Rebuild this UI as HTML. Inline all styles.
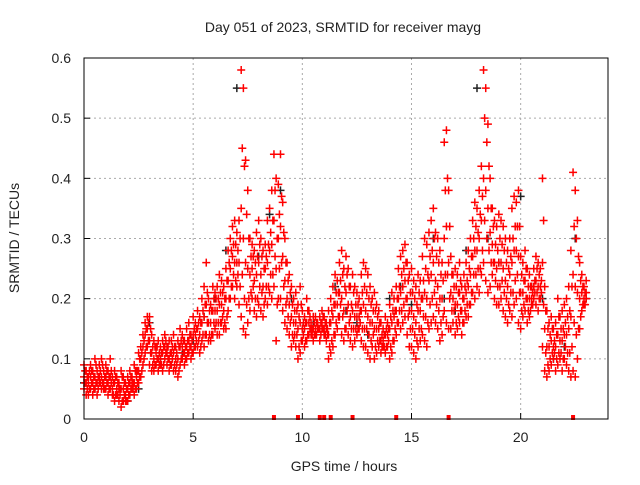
<!DOCTYPE html>
<html><head><meta charset="utf-8"><style>
body{margin:0;background:#fff;width:640px;height:480px;overflow:hidden}
svg text{font-family:"Liberation Sans",sans-serif;font-size:14px;fill:#222}
</style></head><body>
<svg id="chart" width="640" height="480" xmlns="http://www.w3.org/2000/svg">
<text x="343" y="32" text-anchor="middle">Day 051 of 2023, SRMTID for receiver mayg</text>
<text transform="translate(19,238) rotate(-90)" text-anchor="middle">SRMTID / TECUs</text>
<text x="344" y="471" text-anchor="middle">GPS time / hours</text>
<g id="grid"></g><g id="ticks"></g><g id="black"></g><g id="red"></g>
<rect x="84" y="58" width="524" height="361" fill="none" stroke="#000" stroke-width="1"/>
</svg>
<script>
const xTicks=[0,5,10,15,20];
const yTicks=[0,0.1,0.2,0.3,0.4,0.5,0.6];
const yTickLabels=["0","0.1","0.2","0.3","0.4","0.5","0.6"];
const times=[0.0,0.1,0.2,0.3,0.4,0.5,0.6,0.7,0.8,0.9,1.0,1.1,1.2,1.3,1.4,1.5,1.6,1.7,1.8,1.9,2.0,2.1,2.2,2.3,2.4,2.5,2.6,2.7,2.8,2.9,3.0,3.1,3.2,3.3,3.4,3.5,3.6,3.7,3.8,3.9,4.0,4.1,4.2,4.3,4.4,4.5,4.6,4.7,4.8,4.9,5.0,5.1,5.2,5.3,5.4,5.5,5.6,5.7,5.8,5.9,6.0,6.1,6.2,6.3,6.4,6.5,6.6,6.7,6.8,6.9,7.0,7.1,7.2,7.3,7.4,7.5,7.6,7.7,7.8,7.9,8.0,8.1,8.2,8.3,8.4,8.5,8.6,8.7,8.8,8.9,9.0,9.1,9.2,9.3,9.4,9.5,9.6,9.7,9.8,9.9,10.0,10.1,10.2,10.3,10.4,10.5,10.6,10.7,10.8,10.9,11.0,11.1,11.2,11.3,11.4,11.5,11.6,11.7,11.8,11.9,12.0,12.1,12.2,12.3,12.4,12.5,12.6,12.7,12.8,12.9,13.0,13.1,13.2,13.3,13.4,13.5,13.6,13.7,13.8,13.9,14.0,14.1,14.2,14.3,14.4,14.5,14.6,14.7,14.8,14.9,15.0,15.1,15.2,15.3,15.4,15.5,15.6,15.7,15.8,15.9,16.0,16.1,16.2,16.3,16.4,16.5,16.6,16.7,16.8,16.9,17.0,17.1,17.2,17.3,17.4,17.5,17.6,17.7,17.8,17.9,18.0,18.1,18.2,18.3,18.4,18.5,18.6,18.7,18.8,18.9,19.0,19.1,19.2,19.3,19.4,19.5,19.6,19.7,19.8,19.9,20.0,20.1,20.2,20.3,20.4,20.5,20.6,20.7,20.8,20.9,21.0,21.1,21.2,21.3,21.4,21.5,21.6,21.7,21.8,21.9,22.0,22.1,22.2,22.3,22.4,22.5,22.6,22.7,22.8,22.9,23.0];
const hiVals=[.09,.08,.07,.09,.08,.10,.08,.09,.10,.08,.09,.08,.10,.07,.08,.07,.06,.08,.07,.06,.07,.08,.07,.09,.08,.11,.12,.14,.16,.17,.17,.14,.13,.12,.13,.12,.13,.14,.12,.13,.13,.14,.12,.13,.15,.14,.13,.15,.16,.14,.17,.16,.18,.17,.20,.22,.26,.20,.19,.22,.21,.22,.24,.23,.22,.25,.28,.30,.32,.33,.31,.33,.58,.55,.43,.38,.30,.29,.28,.31,.33,.30,.28,.29,.33,.35,.38,.44,.40,.39,.44,.36,.30,.26,.24,.22,.20,.21,.19,.22,.18,.17,.20,.18,.16,.17,.17,.16,.17,.18,.17,.16,.18,.20,.22,.24,.23,.26,.28,.25,.27,.25,.22,.24,.22,.21,.20,.24,.26,.25,.24,.22,.20,.21,.19,.18,.16,.15,.17,.16,.19,.21,.20,.22,.25,.27,.28,.29,.26,.24,.25,.23,.22,.24,.23,.27,.30,.29,.31,.33,.35,.31,.30,.28,.26,.46,.48,.38,.27,.24,.25,.24,.26,.22,.24,.26,.28,.30,.33,.36,.35,.38,.42,.58,.55,.49,.40,.35,.33,.32,.34,.33,.32,.30,.28,.30,.35,.37,.36,.38,.27,.26,.28,.25,.24,.22,.25,.27,.26,.25,.40,.22,.18,.16,.17,.15,.16,.20,.17,.18,.19,.20,.22,.28,.41,.38,.33,.26,.24,.22,.23];
const midVals=[.07,.06,.06,.07,.06,.07,.06,.07,.07,.06,.07,.06,.07,.05,.06,.05,.05,.05,.05,.04,.05,.06,.06,.06,.07,.08,.10,.12,.14,.15,.13,.11,.10,.11,.10,.10,.11,.12,.11,.10,.11,.11,.10,.10,.12,.12,.11,.12,.13,.12,.14,.14,.15,.14,.16,.17,.19,.16,.16,.18,.18,.18,.19,.19,.18,.20,.23,.25,.27,.26,.26,.26,.35,.30,.26,.25,.24,.25,.23,.24,.26,.24,.22,.25,.26,.28,.29,.33,.25,.30,.32,.27,.23,.20,.19,.17,.16,.16,.15,.16,.15,.15,.16,.16,.15,.15,.15,.15,.15,.16,.15,.15,.14,.16,.17,.19,.19,.21,.20,.18,.21,.19,.17,.18,.17,.17,.17,.18,.19,.18,.17,.16,.16,.15,.15,.15,.13,.13,.14,.14,.15,.16,.17,.18,.20,.21,.22,.23,.20,.18,.18,.17,.16,.18,.18,.20,.21,.20,.23,.24,.26,.23,.22,.20,.20,.30,.32,.26,.21,.20,.19,.19,.21,.18,.20,.21,.22,.24,.27,.28,.28,.30,.33,.40,.38,.35,.31,.29,.26,.25,.26,.26,.25,.23,.22,.24,.26,.28,.28,.27,.21,.21,.23,.20,.20,.20,.22,.23,.22,.22,.26,.15,.12,.12,.13,.12,.12,.14,.13,.13,.14,.14,.15,.17,.24,.22,.21,.20,.21,.20,.21];
const loVals=[.05,.04,.04,.05,.04,.05,.04,.06,.05,.05,.05,.04,.05,.04,.03,.04,.03,.02,.03,.03,.03,.04,.05,.04,.05,.06,.07,.09,.11,.12,.09,.08,.08,.09,.08,.09,.08,.10,.09,.08,.09,.08,.08,.07,.09,.10,.09,.10,.11,.10,.11,.12,.12,.11,.13,.12,.14,.13,.13,.14,.15,.14,.14,.16,.15,.15,.18,.20,.22,.20,.22,.19,.17,.15,.14,.16,.18,.20,.18,.17,.19,.18,.17,.20,.19,.21,.20,.22,.13,.20,.20,.18,.16,.15,.14,.12,.13,.12,.10,.11,.13,.12,.13,.14,.14,.13,.14,.15,.13,.15,.14,.13,.10,.11,.12,.14,.15,.17,.14,.13,.15,.14,.13,.12,.13,.14,.15,.13,.12,.12,.11,.10,.12,.10,.11,.12,.11,.12,.11,.12,.10,.11,.13,.14,.16,.15,.16,.17,.14,.12,.12,.11,.10,.12,.13,.14,.13,.12,.15,.16,.17,.16,.15,.13,.14,.18,.16,.15,.15,.16,.14,.15,.16,.14,.16,.17,.17,.19,.21,.20,.22,.21,.24,.26,.23,.21,.22,.24,.20,.19,.19,.20,.18,.17,.16,.18,.17,.19,.20,.16,.15,.17,.18,.16,.17,.19,.20,.19,.18,.20,.12,.08,.07,.08,.09,.10,.08,.09,.10,.08,.10,.09,.08,.07,.08,.07,.10,.15,.18,.19,.20];
const times2=[0.05,0.15,0.25,0.35,0.45,0.55,0.65,0.75,0.85,0.95,1.05,1.15,1.25,1.35,1.45,1.55,1.65,1.75,1.85,1.95,2.05,2.15,2.25,2.35,2.45,2.55,2.65,2.75,2.85,2.95,3.05,3.15,3.25,3.35,3.45,3.55,3.65,3.75,3.85,3.95,4.05,4.15,4.25,4.35,4.45,4.55,4.65,4.75,4.85,4.95,5.05,5.15,5.25,5.35,5.45,5.55,5.65,5.75,5.85,5.95,6.05,6.15,6.25,6.35,6.45,6.55,6.65,6.75,6.85,6.95,7.05,7.15,7.25,7.35,7.45,7.55,7.65,7.75,7.85,7.95,8.05,8.15,8.25,8.35,8.45,8.55,8.65,8.75,8.85,8.95,9.05,9.15,9.25,9.35,9.45,9.55,9.65,9.75,9.85,9.95,10.05,10.15,10.25,10.35,10.45,10.55,10.65,10.75,10.85,10.95,11.05,11.15,11.25,11.35,11.45,11.55,11.65,11.75,11.85,11.95,12.05,12.15,12.25,12.35,12.45,12.55,12.65,12.75,12.85,12.95,13.05,13.15,13.25,13.35,13.45,13.55,13.65,13.75,13.85,13.95,14.05,14.15,14.25,14.35,14.45,14.55,14.65,14.75,14.85,14.95,15.05,15.15,15.25,15.35,15.45,15.55,15.65,15.75,15.85,15.95,16.05,16.15,16.25,16.35,16.45,16.55,16.65,16.75,16.85,16.95,17.05,17.15,17.25,17.35,17.45,17.55,17.65,17.75,17.85,17.95,18.05,18.15,18.25,18.35,18.45,18.55,18.65,18.75,18.85,18.95,19.05,19.15,19.25,19.35,19.45,19.55,19.65,19.75,19.85,19.95,20.05,20.15,20.25,20.35,20.45,20.55,20.65,20.75,20.85,20.95,21.05,21.15,21.25,21.35,21.45,21.55,21.65,21.75,21.85,21.95,22.05,22.15,22.25,22.35,22.45,22.55,22.65,22.75,22.85,22.95];
const upMidVals=[.08,.07,.08,.08,.07,.09,.07,.08,.09,.07,.08,.07,.08,.06,.07,.06,.05,.07,.06,.05,.06,.07,.06,.08,.08,.10,.11,.13,.15,.16,.15,.12,.12,.12,.11,.11,.12,.13,.12,.11,.12,.12,.11,.12,.13,.13,.12,.13,.14,.13,.15,.15,.16,.16,.18,.19,.21,.18,.18,.20,.20,.20,.21,.21,.20,.23,.26,.28,.29,.29,.28,.30,.45,.42,.34,.30,.27,.27,.26,.27,.29,.27,.25,.27,.29,.31,.33,.38,.30,.34,.37,.31,.26,.23,.21,.19,.18,.18,.17,.19,.16,.16,.18,.17,.15,.16,.16,.15,.16,.17,.16,.15,.16,.18,.19,.21,.21,.23,.24,.22,.24,.22,.19,.21,.19,.19,.18,.21,.22,.21,.20,.19,.18,.18,.17,.16,.14,.14,.15,.15,.17,.18,.18,.20,.22,.24,.25,.26,.23,.21,.21,.20,.19,.21,.20,.23,.25,.24,.27,.28,.30,.27,.26,.24,.23,.38,.40,.32,.24,.22,.22,.21,.23,.20,.22,.23,.25,.27,.30,.32,.31,.34,.37,.50,.46,.42,.35,.32,.29,.28,.30,.29,.28,.26,.25,.27,.30,.32,.32,.32,.24,.23,.25,.22,.22,.21,.23,.25,.24,.23,.33,.18,.15,.14,.15,.13,.14,.17,.15,.15,.16,.17,.18,.22,.32,.30,.27,.23,.22,.21];
const loMidVals=[.06,.05,.05,.06,.05,.06,.05,.06,.06,.05,.06,.05,.06,.04,.04,.04,.04,.03,.04,.03,.04,.05,.05,.05,.06,.07,.08,.10,.12,.13,.11,.09,.09,.10,.09,.09,.09,.11,.10,.09,.10,.09,.09,.08,.10,.11,.10,.11,.12,.11,.12,.13,.13,.12,.14,.14,.16,.14,.14,.16,.16,.16,.16,.17,.16,.17,.20,.22,.24,.23,.24,.22,.24,.20,.19,.20,.21,.22,.20,.20,.22,.21,.19,.22,.22,.24,.24,.27,.19,.25,.26,.22,.19,.17,.16,.14,.14,.14,.12,.13,.14,.13,.14,.15,.14,.14,.14,.15,.14,.15,.14,.14,.12,.13,.14,.16,.17,.19,.17,.15,.18,.16,.15,.15,.15,.15,.16,.15,.15,.15,.14,.13,.14,.12,.13,.13,.12,.12,.12,.13,.12,.13,.15,.16,.18,.18,.19,.20,.17,.15,.15,.14,.13,.15,.15,.17,.17,.16,.19,.20,.21,.19,.18,.16,.17,.24,.24,.20,.18,.18,.16,.17,.18,.16,.18,.19,.19,.21,.24,.24,.25,.25,.28,.33,.30,.28,.26,.26,.23,.22,.22,.23,.21,.20,.19,.21,.21,.23,.24,.21,.18,.19,.20,.18,.18,.19,.21,.21,.20,.21,.19,.11,.09,.10,.11,.11,.10,.11,.11,.10,.12,.11,.11,.12,.16,.14,.15,.17,.19,.19];
const blackTimes=[0,0.5,1,1.5,2,2.5,3,3.5,4,4.5,5,5.5,6,6.5,7,7.5,8,8.5,9,9.5,10,10.5,11,11.5,12,12.5,13,13.5,14,14.5,15,15.5,16,16.5,17,17.5,18,18.5,19,19.5,20,20.5,21,21.5,22,22.5,23];
const blackVals=[.06,.05,.07,.04,.03,.05,.16,.10,.09,.11,.13,.17,.20,.28,.55,.25,.27,.34,.38,.20,.15,.16,.14,.22,.18,.16,.14,.12,.20,.22,.19,.20,.30,.20,.18,.28,.55,.30,.26,.30,.37,.22,.20,.10,.12,.30,.20];
const zeroTimes=[8.7,9.8,10.8,11.0,11.3,12.3,14.3,16.7,22.4];

const X0=84,X1=608,Y0=419,Y1=58;
const xs=t=>X0+(t/24)*(X1-X0);
const ys=v=>Y0-(v/0.6)*(Y0-Y1);
const NS="http://www.w3.org/2000/svg";
function mk(tag,parent,attrs){const e=document.createElementNS(NS,tag);for(const k in attrs)e.setAttribute(k,attrs[k]);parent.appendChild(e);return e;}
const grid=document.getElementById('grid'),ticks=document.getElementById('ticks');
xTicks.forEach(t=>{const x=xs(t);
 if(t>0){const g=mk('line',grid,{x1:x,x2:x,y1:Y1,y2:Y0,stroke:'#aaa','stroke-dasharray':'2,3'});
 
 }
 mk('line',ticks,{x1:x,x2:x,y1:Y0,y2:Y0-6,stroke:'#000'});
 const l=mk('text',ticks,{x:x,y:Y0+23,'text-anchor':'middle'});l.textContent=t;
 
 });
yTicks.forEach((v,i)=>{const y=ys(v);
 if(v>0&&v<0.6){const g=mk('line',grid,{x1:X0,x2:X1,y1:y,y2:y,stroke:'#aaa','stroke-dasharray':'2,3'});
 
 }
 mk('line',ticks,{x1:X0,x2:X0+6,y1:y,y2:y,stroke:'#000'});
 const l=mk('text',ticks,{x:X0-13,y:y+5,'text-anchor':'end'});l.textContent=yTickLabels[i];
 
 });
function plus(g,t,v,col,name){const x=xs(t),y=ys(v);
 const p=mk('path',g,{d:`M${x-4},${y}H${x+4}M${x},${y-4}V${y+4}`,stroke:col,'stroke-width':1.5,fill:'none'});
 
 }
const bg=document.getElementById('black'),rg=document.getElementById('red');
blackTimes.forEach((t,i)=>plus(bg,t,blackVals[i],'#222','black-point'));
[hiVals,midVals,loVals].forEach(arr=>times.forEach((t,i)=>plus(rg,t,arr[i],'#f00','red-point')));
[upMidVals,loMidVals].forEach(arr=>times2.forEach((t,i)=>plus(rg,t,arr[i],'#f00','red-point')));
zeroTimes.forEach(t=>{const x=xs(t);
 const z=mk('rect',rg,{x:x-2,y:Y0-4,width:4,height:5,fill:'#f00'});
 
 });
</script>
</body></html>
